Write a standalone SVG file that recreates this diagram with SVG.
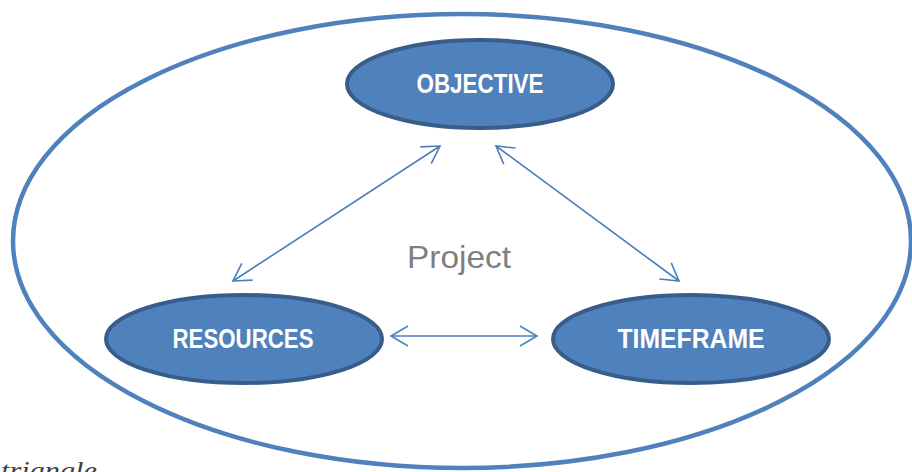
<svg xmlns="http://www.w3.org/2000/svg" width="912" height="472" viewBox="0 0 912 472">
<style>
.node ellipse{fill:#4f81bd;stroke:#385d8a;stroke-width:4}
.node text{fill:#ffffff;font-family:"Liberation Sans",Arial,sans-serif;font-weight:bold;font-size:27px;text-anchor:middle}
.conn line{stroke:#4a7ebb;stroke-width:1.6;fill:none}
</style>
<defs>
<marker id="ah" viewBox="-19 -12 22 24" refX="0" refY="0" markerWidth="22" markerHeight="24" markerUnits="userSpaceOnUse" orient="auto-start-reverse">
<path d="M-17,-10 L0,0 L-17,10" fill="none" stroke="#4a7ebb" stroke-width="1.6"/>
</marker>
</defs>
<rect width="912" height="472" fill="#ffffff"/>
<g id="project">
<ellipse cx="462" cy="241" rx="449" ry="227" fill="none" stroke="#4f81bd" stroke-width="4.5"/>
<text x="459" y="268" font-family="Liberation Sans,Arial,sans-serif" font-size="32" fill="#7f7f7f" text-anchor="middle" textLength="104" lengthAdjust="spacingAndGlyphs">Project</text>
</g>
<g id="objective" class="node">
<ellipse cx="480" cy="84" rx="133" ry="44"/>
<text x="480" y="93" textLength="127" lengthAdjust="spacingAndGlyphs">OBJECTIVE</text>
</g>
<g id="resources" class="node">
<ellipse cx="244" cy="339" rx="138" ry="44"/>
<text x="243" y="348" textLength="141" lengthAdjust="spacingAndGlyphs">RESOURCES</text>
</g>
<g id="timeframe" class="node">
<ellipse cx="691" cy="339" rx="138" ry="44"/>
<text x="691" y="348" textLength="147" lengthAdjust="spacingAndGlyphs">TIMEFRAME</text>
</g>
<g id="connectors" class="conn">
<line x1="233" y1="281" x2="440" y2="146" marker-start="url(#ah)" marker-end="url(#ah)"/>
<line x1="496" y1="146" x2="679" y2="281" marker-start="url(#ah)" marker-end="url(#ah)"/>
<line x1="391" y1="336" x2="537" y2="336" marker-start="url(#ah)" marker-end="url(#ah)"/>
</g>
<text x="1" y="479" font-family="Liberation Serif,'Times New Roman',serif" font-style="italic" font-size="25" fill="#404040" textLength="96" lengthAdjust="spacingAndGlyphs">triangle</text>
</svg>
